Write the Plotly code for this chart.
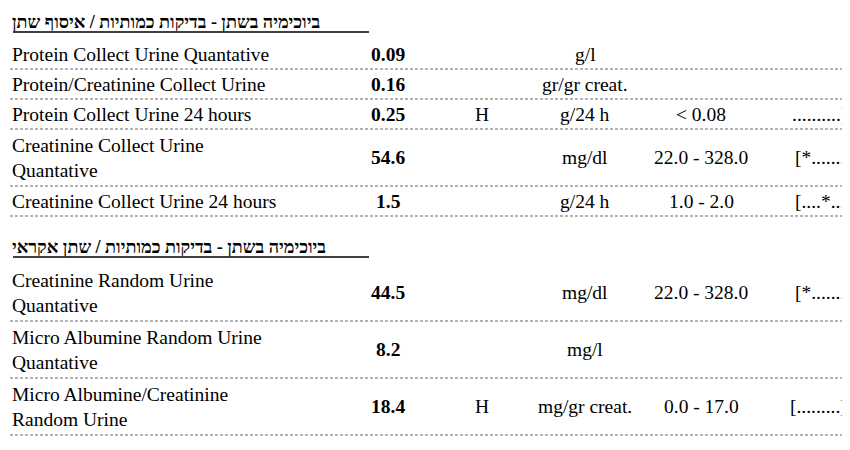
import plotly.graph_objects as go

# section headers
sections = ["ביוכימיה בשתן - בדיקות כמותיות / איסוף שתן",
            "ביוכימיה בשתן - בדיקות כמותיות / שתן אקראי"]
section_of_row = [0, 0, 0, 0, 0, 1, 1, 1]

test_names = ["Protein Collect Urine Quantative",
              "Protein/Creatinine Collect Urine",
              "Protein Collect Urine 24 hours",
              "Creatinine Collect Urine<br>Quantative",
              "Creatinine Collect Urine 24 hours",
              "Creatinine Random Urine<br>Quantative",
              "Micro Albumine Random Urine<br>Quantative",
              "Micro Albumine/Creatinine<br>Random Urine"]
results = ["0.09", "0.16", "0.25", "54.6", "1.5", "44.5", "8.2", "18.4"]
high_flags = ["", "", "H", "", "", "", "", "H"]
units = ["g/l", "gr/gr creat.", "g/24 h", "mg/dl", "g/24 h", "mg/dl", "mg/l", "mg/gr creat."]
ranges = ["", "", "< 0.08", "22.0 - 328.0", "1.0 - 2.0", "22.0 - 328.0", "", "0.0 - 17.0"]
bars = ["", "", "..........]*", "[*........]", "[....*....]", "[*........]", "", "[.........]*"]

FONT = "Liberation Serif, Times New Roman, serif"
W, H = 850, 450
SINGLE, DOUBLE, HEAD, GAP = 30, 57, 31, 17

fig = go.Figure()
ann, shapes = [], []

y = 0
prev_sec = None
for i in range(len(test_names)):
    if section_of_row[i] != prev_sec:
        if prev_sec is not None:
            y += GAP
        prev_sec = section_of_row[i]
        ann.append(dict(x=4, y=y + 14, text="<b>" + sections[prev_sec] + "</b>",
                        xanchor="left", font=dict(size=18)))
        shapes.append(dict(type="line", x0=5, x1=361, y0=y + 24, y1=y + 24,
                           line=dict(color="black", width=1.3)))
        y += HEAD
    h = DOUBLE if "<br>" in test_names[i] else SINGLE
    cy = y + h / 2
    ann.append(dict(x=4, y=cy, text=test_names[i], xanchor="left", align="left"))
    ann.append(dict(x=380, y=cy, text="<b>" + results[i] + "</b>"))
    ann.append(dict(x=474, y=cy, text=high_flags[i]))
    ann.append(dict(x=577, y=cy, text=units[i]))
    ann.append(dict(x=693, y=cy, text=ranges[i]))
    ann.append(dict(x=849, y=cy, text=bars[i], xanchor="right"))
    y += h
    shapes.append(dict(type="line", x0=2, x1=850, y0=y, y1=y,
                       line=dict(color="#9a9a9a", width=1.3, dash="3px,2px")))

for a in ann:
    a.setdefault("xanchor", "center")
    size = a.get("font", {}).get("size", 19.5)
    a.update(xref="x", yref="y", yanchor="middle", showarrow=False,
             borderpad=0, borderwidth=0,
             font=dict(family=FONT, color="black", size=size))

fig.update_layout(
    width=W, height=H, margin=dict(l=0, r=0, t=0, b=0),
    paper_bgcolor="white", plot_bgcolor="white",
    xaxis=dict(range=[0, W], visible=False, fixedrange=True),
    yaxis=dict(range=[H, 0], visible=False, fixedrange=True),
    annotations=ann, shapes=shapes, showlegend=False,
)

fig.write_html("out.html")
